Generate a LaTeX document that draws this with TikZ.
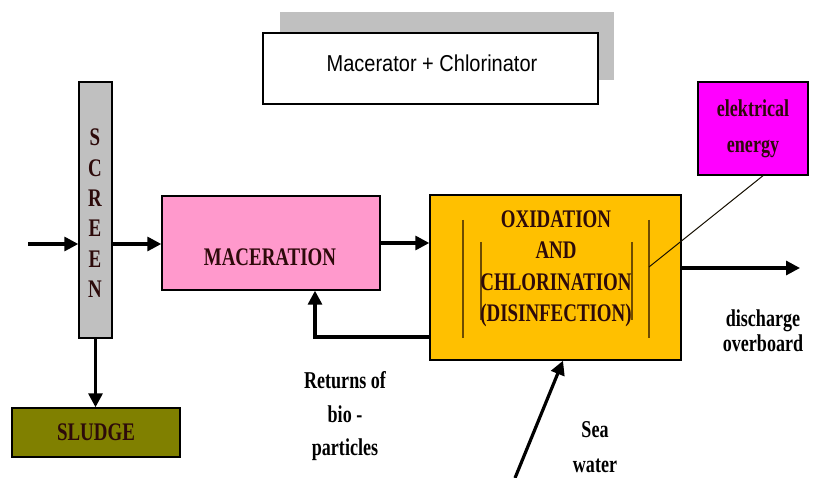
\documentclass[tikz,border=0pt]{standalone}
\usepackage{fontspec}
\setmainfont{Liberation Serif}
\newfontfamily\plainsans{Liberation Sans}
\usepackage{graphicx}
\usetikzlibrary{arrows.meta}
\usetikzlibrary{positioning}

\definecolor{screengray}{RGB}{192,192,192}
\definecolor{shadowgray}{RGB}{192,192,192}
\definecolor{pinkbox}{RGB}{255,153,204}
\definecolor{orangebox}{RGB}{255,192,0}
\definecolor{olivebox}{RGB}{128,128,0}
\definecolor{magentabox}{RGB}{255,0,255}
\definecolor{ink}{RGB}{45,10,10}
\definecolor{innerline}{RGB}{110,75,0}

\newcommand{\tall}[1]{\scalebox{0.86}[1.15]{#1}}

\begin{document}
\begin{tikzpicture}[x=1pt, y=-1pt,
    blk/.style={draw=black, line width=1.4pt, inner sep=0pt},
    lbl/.style={font=\fontsize{22}{31.5}\selectfont\bfseries, text=ink, align=center, inner sep=0pt},
    flow/.style={line width=3.2pt, -{Triangle[length=14pt,width=14pt]}},
]
    \useasboundingbox (0,0) rectangle (822,478);
    \fill[white] (0,0) rectangle (822,478);

    % title box with its shadow
    \node[fill=shadowgray, inner sep=0pt, minimum width=334pt, minimum height=68pt] (shadow) at (447,46) {};
    \node[blk, fill=white, minimum width=335pt, minimum height=71pt] (title) at (430.5,68.5) {};
    \node[inner sep=0pt, font=\plainsans\fontsize{20}{24}\selectfont] (titletxt) at (432,63) {\scalebox{1}[1.15]{Macerator + Chlorinator}};

    % screen
    \node[blk, fill=screengray, minimum width=33pt, minimum height=256pt] (scr) at (95.5,210) {};
    \foreach \c [count=\i] in {S,C,R,E,E,N} {
        \node[lbl] (scr\i) at (95,107+30.4*\i) {\tall{\c}};
    }
    \node[blk, fill=olivebox, minimum width=168pt, minimum height=49pt, lbl] (sludge) at (96,432.5) {\tall{SLUDGE}};

    % maceration
    \node[blk, fill=pinkbox, minimum width=218pt, minimum height=94pt] (mac) at (271,243) {};
    \node[lbl] (mactxt) at (270,257) {\tall{MACERATION}};

    % oxidation and chlorination
    \node[blk, fill=orangebox, minimum width=251pt, minimum height=165pt] (ox) at (555.5,277.5) {};
    \foreach \x/\a/\b in {463/220/338, 481/242/320, 632/242/320, 649/220/338} {
        \draw[innerline, line width=1.6pt] (\x,\a) -- (\x,\b);
    }
    \coordinate (hook) at (649,267);
    \node[lbl] (oxtxt) at (556,269) {\tall{OXIDATION}\\\tall{AND}\\\tall{CHLORINATION}\\\tall{(DISINFECTION)}};

    \node[blk, fill=magentabox, minimum width=110pt, minimum height=93pt, lbl, font=\fontsize{21}{36}\selectfont\bfseries] (elec) at (753,128.5) {\tall{elektrical}\\\tall{energy}};

    % flows
    \coordinate (in) at (28,244);
    \draw[flow] (in) -- (in -| scr.west);
    \draw[flow] (in -| scr.east) -- (in -| mac.west);
    \draw[flow] (scr.south) -- (scr.south |- sludge.north);
    \draw[flow] (mac.east) -- (mac.east -| ox.west);
    \draw[flow] ([yshift=-59.5pt]ox.west) -| ([xshift=44pt]mac.south);
    \coordinate (out) at (800,268);
    \draw[flow] (out -| ox.east) -- (out);
    \coordinate (sea) at (515,478);
    \draw[flow] (sea) -- ([xshift=7.5pt]ox.south);
    \draw[black!80!innerline, line width=1pt] ([xshift=10pt]elec.south) -- (hook);

    % free labels
    \node[lbl, text=black, font=\fontsize{21}{33.5}\selectfont\bfseries] (ret) at (345,416.5) {\tall{Returns of}\\\tall{bio -}\\\tall{particles}};
    \node[lbl, text=black, font=\fontsize{21}{25}\selectfont\bfseries] (dis) at (763,330.5) {\tall{discharge}\\\tall{overboard}};
    \node[lbl, text=black, font=\fontsize{21}{35}\selectfont\bfseries] (seatxt) at (595,447) {\tall{Sea}\\\tall{water}};
\end{tikzpicture}
\end{document}
